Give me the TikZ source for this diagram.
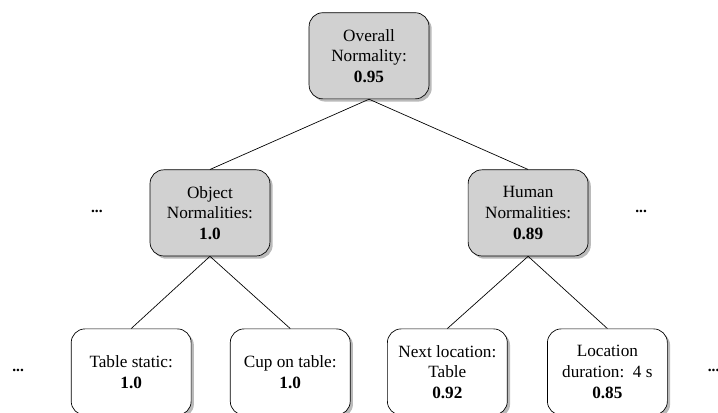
\documentclass[tikz,border=0pt]{standalone}
\usepackage{fontspec}
\setmainfont{Liberation Serif}
\usepackage{tikz}
\usetikzlibrary{shadows}

\tikzset{
    normbox/.style={rectangle, rounded corners=8pt, draw, thin, align=center,
        minimum width=2.45cm, minimum height=1.76cm, inner sep=2pt,
        drop shadow={shadow xshift=1.6pt, shadow yshift=-1.6pt, fill=black!45, opacity=0.6}},
    grouped/.style={normbox, fill=black!18},
    leaf/.style={normbox, fill=white},
    more/.style={inner sep=0pt, font=\small\bfseries}
}

\begin{document}
\begin{tikzpicture}
\clip (0,0) rectangle (14.67,8.42);

\node[grouped] (total) at (7.54,7.28) {Overall\\Normality:\\\textbf{0.95}};
\node[grouped] (obj) at (4.29,4.07) {Object\\Normalities:\\\textbf{1.0}};
\node[grouped] (hum) at (10.79,4.07) {Human\\Normalities:\\\textbf{0.89}};

\begin{scope}[every node/.style={leaf}]
    \node (tab) at (2.68,0.82) {Table static:\\\textbf{1.0}};
    \node (cup) at (5.93,0.82) {Cup on table:\\\textbf{1.0}};
    \node (nxt) at (9.14,0.82) {Next location:\\Table\\\textbf{0.92}};
    \node (dur) at (12.41,0.82) {Location\\duration:\ \ 4 s\\\textbf{0.85}};
\end{scope}

\node[more] (m1) at (1.98,4.09) {...};
\node[more] (m2) at (13.10,4.09) {...};
\node[more] (m3) at (0.37,0.86) {...};
\node[more] (m4) at (14.58,0.86) {...};

\draw (total.south) -- (obj.north);
\draw (total.south) -- (hum.north);
\draw (obj.south) -- (tab.north);
\draw (obj.south) -- (cup.north);
\draw (hum.south) -- (nxt.north);
\draw (hum.south) -- (dur.north);
\end{tikzpicture}
\end{document}
